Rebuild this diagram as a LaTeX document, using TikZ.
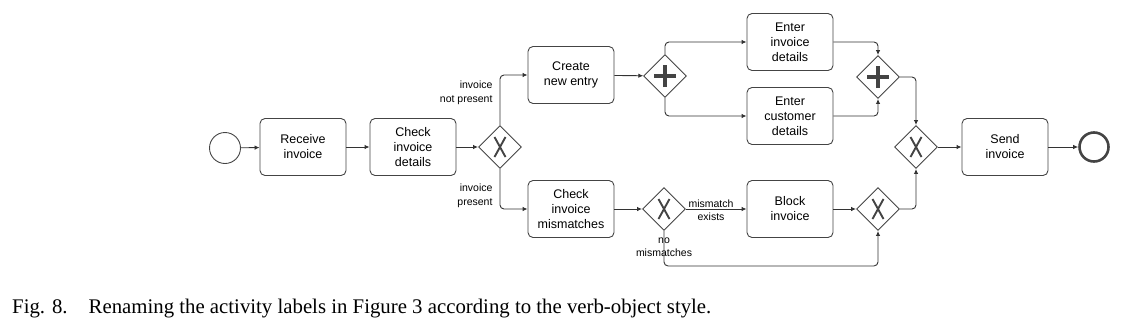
\documentclass[tikz,border=0pt]{standalone}
\usepackage{fontspec}
\setmainfont{Liberation Sans}
\newfontfamily\capfont{Liberation Serif}
\usetikzlibrary{arrows.meta,shapes.geometric}
\definecolor{LineGray}{HTML}{333333}
\definecolor{FrameGray}{HTML}{444444}

\begin{document}
\begin{tikzpicture}[
  x=1pt, y=-1pt,
  task/.style={draw=FrameGray, line width=0.9pt, rounded corners=5pt, align=center,
    minimum width=86pt, minimum height=57pt, inner sep=2pt,
    font=\fontsize{12.5}{15}\selectfont},
  gate/.style={draw=FrameGray, line width=0.9pt, diamond, aspect=1, inner sep=0pt,
    minimum width=43pt, minimum height=43pt},
  xgate/.style={gate, path picture={
    \draw[line width=1.9pt] ([shift={(-5.5pt,-10pt)}]path picture bounding box.center) -- ++(11pt,20pt);
    \draw[line width=1.9pt] ([shift={(-5.5pt,10pt)}]path picture bounding box.center) -- ++(11pt,-20pt);}},
  pgate/.style={gate, path picture={
    \draw[line width=3.4pt] ([shift={(-11pt,0pt)}]path picture bounding box.center) -- ++(22pt,0pt);
    \draw[line width=3.4pt] ([shift={(0pt,-11pt)}]path picture bounding box.center) -- ++(0pt,22pt);}},
  event/.style={circle, draw=FrameGray, line width=0.9pt, minimum size=31pt, inner sep=0pt},
  cond/.style={font=\fontsize{10.5}{13.5}\selectfont},
  flow/.style={-{Latex[length=5pt,width=4.5pt]}, draw=LineGray, line width=0.9pt, rounded corners=4pt}
]
\useasboundingbox (0,0) rectangle (1122,330);

% main line
\node[event] (start) at (225,148) {};
\node[task] (receive) at (303,147) {Receive\\invoice};
\node[task] (check) at (413,147) {Check\\invoice\\details};
\node[xgate] (split) at (500,147) {};

% upper branch
\node[task] (create) at (571,75) {Create\\new entry};
\node[pgate] (fork) at (665,76) {};
\node[task] (enterinv) at (790,42) {Enter\\invoice\\details};
\node[task] (entercust) at (790,116) {Enter\\customer\\details};
\node[pgate] (join) at (878,77) {};

% lower branch
\node[task] (mismatch) at (571,209) {Check\\invoice\\mismatches};
\node[xgate] (split2) at (664,209) {};
\node[task] (block) at (790,209) {Block\\invoice};
\node[xgate] (merge2) at (878,209) {};

% end
\node[xgate] (merge) at (916,147) {};
\node[task] (send) at (1005,147) {Send\\invoice};
\node[event, line width=2.6pt, minimum size=29pt] (stop) at (1094,147) {};

% labels
\node[cond, align=right, anchor=east] (lnot) at (496,93) {invoice\\not present};
\node[cond, align=right, anchor=east] (lyes) at (496,196) {invoice\\present};
\node[cond, align=center] (lexists) at (711,210) {mismatch\\exists};
\node[cond, align=center] (lnone) at (664,247) {no\\mismatches};

\draw[flow] (start) -- (receive);
\draw[flow] (receive) -- (check);
\draw[flow] (check) -- (split);
\draw[flow] (split) |- (create);
\draw[flow] (split) |- (mismatch);
\draw[flow] (create) -- (fork);
\draw[flow] (fork) |- (enterinv);
\draw[flow] (fork) |- (entercust);
\draw[flow] (enterinv) -| (join);
\draw[flow] (entercust) -| (join);
\draw[flow] (join) -| (merge);
\draw[flow] (mismatch) -- (split2);
\draw[flow] (split2) -- (block);
\draw[flow] (block) -- (merge2);
\draw[flow] (split2.south) -- ++(0,35) -| (merge2.south);
\draw[flow] (merge2) -| (merge);
\draw[flow] (merge) -- (send);
\draw[flow] (send) -- (stop);

% caption
\node[anchor=base west, inner sep=0pt, font=\capfont\fontsize{20.8}{24}\selectfont] (caption)
  at (12,313) {Fig. 8.\hspace{21pt}Renaming the activity labels in Figure 3 according to the verb-object style.};
\end{tikzpicture}
\end{document}
